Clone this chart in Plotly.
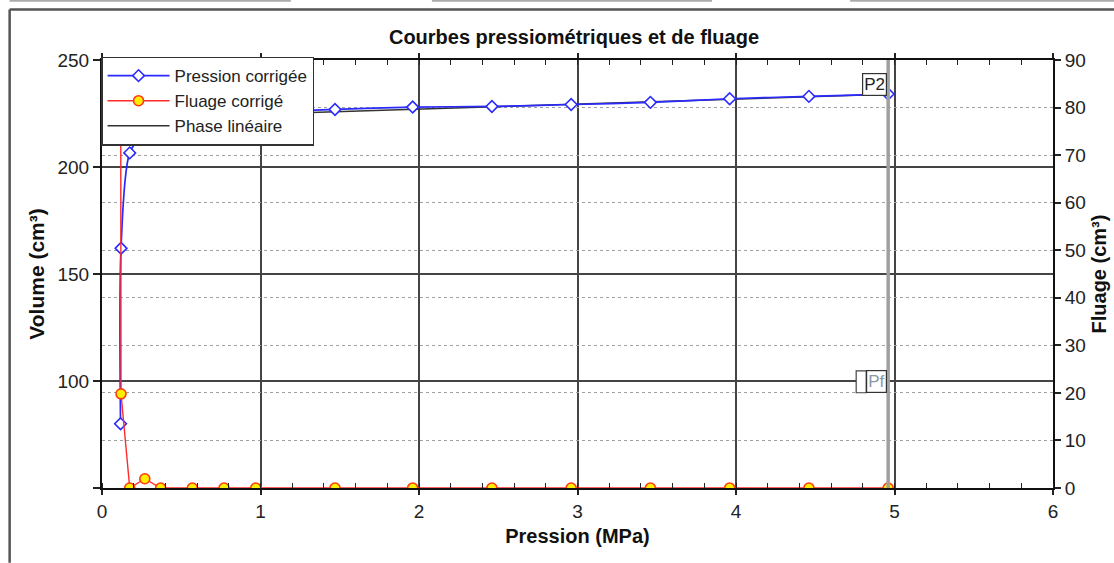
import plotly.graph_objects as go

# ---- data ----
pression = [0.117, 0.12, 0.175, 0.27, 0.37, 0.57, 0.77, 0.97, 1.47,
            1.96, 2.46, 2.96, 3.46, 3.96, 4.46, 4.96]
volume = [80.0, 162.0, 206.6, 215.9, 219.5, 222.5, 224.2, 225.3, 226.9,
          228.0, 228.3, 229.2, 230.2, 231.9, 233.0, 234.1]
fluage = [120.0, 19.8, 0.0, 1.95, 0.0, 0.0, 0.0, 0.0, 0.0,
          0.0, 0.0, 0.0, 0.0, 0.0, 0.0, 0.0]
phase_p = [0.97, 4.96]
phase_v = [224.6, 234.0]
p2 = 4.96
x_ticks = [0, 1, 2, 3, 4, 5, 6]
y_ticks = [50, 100, 150, 200, 250]
y_ticktext = ["", "100", "150", "200", "250"]
y2_ticks = [0, 10, 20, 30, 40, 50, 60, 70, 80, 90]

FONT = "Liberation Sans, Arial, sans-serif"

fig = go.Figure()

# phase line drawn first (beneath the blue curve), listed last in legend
fig.add_trace(go.Scatter(
    x=phase_p, y=phase_v, mode="lines", name="Phase linéaire", legendrank=3,
    line=dict(color="#333333", width=1.5), yaxis="y"))

fig.add_trace(go.Scatter(
    x=pression, y=volume, mode="lines+markers", name="Pression corrigée",
    legendrank=1,
    line=dict(color="#2a2aff", width=1.7, shape="spline", smoothing=0.8),
    marker=dict(symbol="diamond", size=9, color="white",
                line=dict(color="#2a2aff", width=1.6)),
    yaxis="y"))

fig.add_trace(go.Scatter(
    x=pression, y=fluage, mode="lines+markers", name="Fluage corrigé",
    legendrank=2,
    line=dict(color="#ff2a2a", width=1.4),
    marker=dict(symbol="circle", size=10, color="#ffee00",
                line=dict(color="#ff3a10", width=1.6)),
    yaxis="y2"))


def px_x(px):
    return (px - 102.3) / 950.4


def px_y(py):
    return (488.3 - py) / 428.3


shapes = [
    # vertical P2 line
    dict(type="line", xref="x", yref="paper", x0=p2, x1=p2, y0=0, y1=1,
         line=dict(color="#a0a0a0", width=3.5), layer="above"),
    # outer frame (left and top)
    dict(type="line", xref="paper", yref="paper", x0=px_x(10), x1=px_x(10),
         y0=px_y(563), y1=px_y(9.5), line=dict(color="#555555", width=2.5)),
    dict(type="line", xref="paper", yref="paper", x0=px_x(10), x1=px_x(1120),
         y0=px_y(9.5), y1=px_y(9.5), line=dict(color="#555555", width=2.5)),
    # page strips at the very top
    dict(type="line", xref="paper", yref="paper", x0=px_x(10), x1=px_x(291),
         y0=px_y(0.8), y1=px_y(0.8), line=dict(color="#aaaaaa", width=2)),
    dict(type="line", xref="paper", yref="paper", x0=px_x(432), x1=px_x(712),
         y0=px_y(0.8), y1=px_y(0.8), line=dict(color="#aaaaaa", width=2)),
    dict(type="line", xref="paper", yref="paper", x0=px_x(850), x1=px_x(1120),
         y0=px_y(0.8), y1=px_y(0.8), line=dict(color="#aaaaaa", width=2)),
    # small clipped box next to Pf
    dict(type="rect", xref="paper", yref="paper", x0=px_x(856), x1=px_x(866),
         y0=px_y(393), y1=px_y(371), line=dict(color="#444444", width=1.2),
         fillcolor="white", layer="above"),
]

annotations = [
    dict(text="P2", xref="x", yref="paper", x=p2 - 0.01, y=px_y(73),
         xanchor="right", yanchor="top", showarrow=False,
         font=dict(family=FONT, size=17, color="#222222"),
         bgcolor="white", bordercolor="#333333", borderwidth=1.2, borderpad=1),
    dict(text="Pf", xref="x", yref="y", x=p2 - 0.005, y=100,
         xanchor="right", yanchor="middle", showarrow=False,
         font=dict(family=FONT, size=17, color="#8a97a8"),
         bgcolor="white", bordercolor="#333333", borderwidth=1.2, borderpad=1),
]

fig.update_layout(
    width=1114, height=563,
    margin=dict(l=102, r=61, t=60, b=75, autoexpand=False),
    paper_bgcolor="white", plot_bgcolor="white",
    font=dict(family=FONT, size=19, color="#222222"),
    title=dict(text="<b>Courbes pressiométriques et de fluage</b>",
               x=(574 / 1114), xanchor="center", y=1 - 37 / 563,
               yanchor="middle", font=dict(family=FONT, size=20, color="#111111")),
    showlegend=True,
    legend=dict(x=-0.001, y=1.008, xanchor="left", yanchor="top",
                bgcolor="white", bordercolor="#333333", borderwidth=1.5,
                font=dict(family=FONT, size=17, color="#222222"),
                itemwidth=62, tracegroupgap=0, traceorder="normal"),
    xaxis=dict(range=[0, 6], tickvals=x_ticks, ticks="outside", ticklen=5,
               tickwidth=1.5, tickcolor="#222222", automargin=False,
               showline=True, linecolor="#111111", linewidth=2, mirror="ticks",
               showgrid=True, gridcolor="#444444", gridwidth=1.5, zeroline=False,
               minor=dict(dtick=0.2, ticks="inside", ticklen=5, tickwidth=1.2,
                          tickcolor="#222222", showgrid=False),
               title=dict(text="<b>Pression (MPa)</b>", standoff=8,
                          font=dict(family=FONT, size=20, color="#111111")),
               tickfont=dict(family=FONT, size=19, color="#222222")),
    yaxis=dict(range=[50, 250], tickvals=y_ticks, ticktext=y_ticktext,
               ticks="outside", ticklen=7, tickwidth=1.5, tickcolor="#222222",
               automargin=False,
               showline=True, linecolor="#111111", linewidth=2,
               showgrid=True, gridcolor="#444444", gridwidth=1.5, zeroline=False,
               title=dict(text="<b>Volume (cm³)</b>", standoff=7,
                          font=dict(family=FONT, size=21, color="#111111")),
               tickfont=dict(family=FONT, size=19, color="#222222")),
    yaxis2=dict(range=[0, 90], tickvals=y2_ticks, overlaying="y", side="right",
                ticks="outside", ticklen=6, tickwidth=1.5, tickcolor="#222222",
                automargin=False,
                showline=True, linecolor="#111111", linewidth=2,
                showgrid=True, gridcolor="#a0a0a0", gridwidth=1, griddash="dot",
                zeroline=False,
                title=dict(text="<b>Fluage (cm³)</b>", standoff=7,
                           font=dict(family=FONT, size=20, color="#111111")),
                tickfont=dict(family=FONT, size=19, color="#222222")),
    shapes=shapes,
    annotations=annotations,
)

fig.write_html("out.html")
